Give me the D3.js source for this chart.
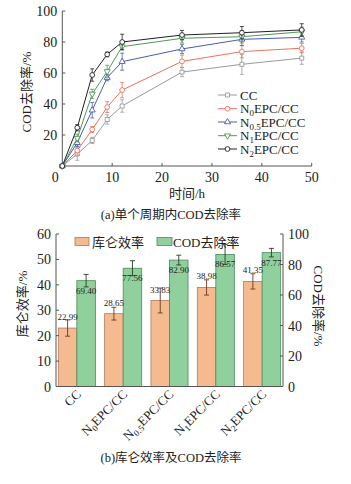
<!DOCTYPE html>
<html>
<head>
<meta charset="utf-8">
<script src="https://cdn.jsdelivr.net/npm/d3@7"></script>
<style>
  body { margin: 0; background: #fff; }
  svg text { font-family: "Liberation Serif", "Noto Sans CJK SC", serif; fill: #222; }
</style>
</head>
<body>
<div id="chart"></div>
<script>
// ---- data: (a) COD removal over time
const hours = [0, 3, 6, 9, 12, 24, 36, 48];
const seriesNames = ["CC", "N0EPC/CC", "N0.5EPC/CC", "N1EPC/CC", "N2EPC/CC"];
const codCC   = [0, 7.7, 16.5, 30, 38.7, 60.6, 65.6, 69.6];
const codN0   = [0, 10, 23.5, 38, 49, 67.5, 73.8, 76];
const codN05  = [0, 15, 36, 57, 67.3, 75.5, 81.7, 83];
const codN1   = [0, 18, 46.5, 61, 77, 82.4, 83.4, 86.6];
const codN2   = [0, 24.7, 58.7, 72, 80, 84.5, 86, 87.8];
const errCC   = [0, 4, 2, 3, 4, 3, 6.5, 4];
const errN0   = [0, 3, 2, 3.5, 5, 4, 4, 3];
const errN05  = [0, 2.5, 5, 2, 5.5, 3, 4, 3];
const errN1   = [0, 2.5, 3, 4, 2, 3, 4, 3];
const errN2   = [0, 2, 4, 1.5, 5, 3, 4, 4];
const xTicks = [0, 10, 20, 30, 40, 50];
const yTicksA = [20, 40, 60, 80, 100];

// ---- data: (b) coulombic efficiency and COD removal
const groups = ["CC", "N0EPC/CC", "N0.5EPC/CC", "N1EPC/CC", "N2EPC/CC"];
const coulomb = [22.99, 28.65, 33.83, 38.98, 41.35];
const coulombErr = [3.2, 2.5, 4.9, 3, 3];
const codRemoval = [69.40, 77.56, 82.90, 86.57, 87.77];
const codRemovalErr = [4.1, 4.9, 3.2, 6.5, 2.8];
const leftTicks = [0, 10, 20, 30, 40, 50, 60];
const rightTicks = [0, 20, 40, 60, 80, 100];

const colors = ["#9a9a9a", "#e8735a", "#4a5db0", "#4f9a52", "#222222"];
const markers = ["square", "circle", "triangle", "triangleDown", "circle"];

const width = 351, height = 484;
const svg = d3.select("#chart").append("svg")
  .attr("width", width).attr("height", height);

const axisColor = "#555";

// label with subscript, e.g. N0EPC/CC -> N<sub>0</sub>EPC/CC
function subLabel(sel, name, subSize) {
  const m = name.match(/^N([0-9.]+)(EPC\/CC)$/);
  if (!m) { sel.text(name); return; }
  sel.append("tspan").text("N");
  sel.append("tspan").attr("font-size", subSize).attr("dy", 3).text(m[1]);
  sel.append("tspan").attr("dy", -3).text(m[2]);
}

// ================= (a) line chart =================
const xA = d3.scaleLinear().domain([0, 50]).range([62.3, 311.7]);
const yA = d3.scaleLinear().domain([0, 100]).range([166, 11]);

const gA = svg.append("g");

gA.append("line").attr("x1", xA(0)).attr("x2", xA(50))
  .attr("y1", yA(0)).attr("y2", yA(0)).attr("stroke", axisColor);
gA.append("line").attr("x1", xA(0)).attr("x2", xA(0))
  .attr("y1", yA(0)).attr("y2", yA(100)).attr("stroke", axisColor);

gA.selectAll(".xt").data(xTicks).enter().append("line")
  .attr("x1", d => xA(d)).attr("x2", d => xA(d))
  .attr("y1", yA(0)).attr("y2", yA(0) - 3).attr("stroke", axisColor);
gA.selectAll(".xl").data(xTicks).enter().append("text")
  .attr("x", d => d === 0 ? xA(d) - 7 : xA(d))
  .attr("y", 182).attr("text-anchor", "middle").attr("font-size", 14)
  .text(d => d);

gA.selectAll(".yt").data(yTicksA).enter().append("line")
  .attr("x1", xA(0)).attr("x2", xA(0) + 3)
  .attr("y1", d => yA(d)).attr("y2", d => yA(d)).attr("stroke", axisColor);
gA.selectAll(".yl").data(yTicksA).enter().append("text")
  .attr("x", xA(0) - 5).attr("y", d => yA(d) + 5)
  .attr("text-anchor", "end").attr("font-size", 14)
  .text(d => d);

gA.append("text").attr("transform", "translate(31,92) rotate(-90)")
  .attr("text-anchor", "middle").attr("font-size", 13).attr("fill", "#444")
  .text("COD去除率/%");
gA.append("text").attr("x", 187).attr("y", 198)
  .attr("text-anchor", "middle").attr("font-size", 13).attr("fill", "#444")
  .text("时间/h");
gA.append("text").attr("x", 171).attr("y", 219)
  .attr("text-anchor", "middle").attr("font-size", 12.5)
  .text("(a)单个周期内COD去除率");

const allSeries = [codCC, codN0, codN05, codN1, codN2];
const allErr = [errCC, errN0, errN05, errN1, errN2];

function drawMarker(g, type, x, y, color) {
  const sym = {
    square: d3.symbolSquare, circle: d3.symbolCircle,
    triangle: d3.symbolTriangle, triangleDown: d3.symbolTriangle
  }[type];
  g.append("path")
    .attr("d", d3.symbol().type(sym).size(type === "circle" ? 18 : 16)())
    .attr("transform", `translate(${x},${y})` + (type === "triangleDown" ? " rotate(180)" : ""))
    .attr("fill", "#fff").attr("stroke", color).attr("stroke-width", 0.9);
}

const line = d3.line().x((d, i) => xA(hours[i])).y(d => yA(d));

allSeries.forEach((vals, s) => {
  const g = gA.append("g");
  // error bars
  vals.forEach((v, i) => {
    const e = allErr[s][i];
    if (!e) return;
    const x = xA(hours[i]);
    g.append("line").attr("x1", x).attr("x2", x)
      .attr("y1", yA(v - e)).attr("y2", yA(v + e))
      .attr("stroke", colors[s]).attr("stroke-width", 0.8);
    [v - e, v + e].forEach(t => g.append("line")
      .attr("x1", x - 2).attr("x2", x + 2).attr("y1", yA(t)).attr("y2", yA(t))
      .attr("stroke", colors[s]).attr("stroke-width", 0.8));
  });
  g.append("path").datum(vals).attr("d", line)
    .attr("fill", "none").attr("stroke", colors[s]).attr("stroke-width", 1);
  vals.forEach((v, i) => drawMarker(g, markers[s], xA(hours[i]), yA(v), colors[s]));
});

// legend (a)
const legRows = [95, 108.7, 122, 135.7, 149];
seriesNames.forEach((name, s) => {
  const y = legRows[s];
  gA.append("line").attr("x1", 218).attr("x2", 237).attr("y1", y).attr("y2", y)
    .attr("stroke", colors[s]).attr("stroke-width", 1);
  drawMarker(gA, markers[s], 227.5, y, colors[s]);
  const t = gA.append("text").attr("x", 240).attr("y", y + 4.5).attr("font-size", 13);
  subLabel(t, name, 9);
});

// ================= (b) bar chart =================
const xB = d3.scaleBand().domain(groups).range([56, 283]).paddingInner(0.2).paddingOuter(0.05);
const xSub = d3.scaleBand().domain(["ce", "cod"]).range([0, xB.bandwidth()]);
const yL = d3.scaleLinear().domain([0, 60]).range([386.5, 234]);
const yR = d3.scaleLinear().domain([0, 100]).range([386.5, 234]);

const gB = svg.append("g");
const orange = "#f6ba90", orangeStroke = "#b07b5a";
const green = "#8fd09c", greenStroke = "#4f8a5c";

// bars
groups.forEach((grp, i) => {
  const x0 = xB(grp);
  gB.append("rect").attr("x", x0 + xSub("ce")).attr("y", yL(coulomb[i]))
    .attr("width", xSub.bandwidth()).attr("height", yL(0) - yL(coulomb[i]))
    .attr("fill", orange).attr("stroke", orangeStroke).attr("stroke-width", 0.8);
  gB.append("rect").attr("x", x0 + xSub("cod")).attr("y", yR(codRemoval[i]))
    .attr("width", xSub.bandwidth()).attr("height", yR(0) - yR(codRemoval[i]))
    .attr("fill", green).attr("stroke", greenStroke).attr("stroke-width", 0.8);

  const errs = [
    [x0 + xSub("ce") + xSub.bandwidth() / 2, yL, coulomb[i], coulombErr[i], "#6a3a22"],
    [x0 + xSub("cod") + xSub.bandwidth() / 2, yR, codRemoval[i], codRemovalErr[i], "#2b3a2b"]
  ];
  errs.forEach(([cx, sc, v, e, c]) => {
    gB.append("line").attr("x1", cx).attr("x2", cx)
      .attr("y1", sc(v - e)).attr("y2", sc(v + e)).attr("stroke", c).attr("stroke-width", 0.9);
    [v - e, v + e].forEach(t => gB.append("line")
      .attr("x1", cx - 2.5).attr("x2", cx + 2.5).attr("y1", sc(t)).attr("y2", sc(t))
      .attr("stroke", c).attr("stroke-width", 0.9));
  });

  gB.append("text").attr("x", x0 + xSub("ce") + xSub.bandwidth() / 2)
    .attr("y", yL(coulomb[i]) - 8).attr("text-anchor", "middle").attr("font-size", 9)
    .text(coulomb[i].toFixed(2));
  gB.append("text").attr("x", x0 + xSub("cod") + xSub.bandwidth() / 2)
    .attr("y", yR(codRemoval[i]) + 13).attr("text-anchor", "middle").attr("font-size", 9)
    .text(codRemoval[i].toFixed(2));

  const t = gB.append("text")
    .attr("transform", `translate(${x0 + xB.bandwidth() / 2 + 5},395) rotate(-45)`)
    .attr("text-anchor", "end").attr("font-size", 13);
  subLabel(t, grp, 9);
});

// axes (b)
gB.append("line").attr("x1", 56).attr("x2", 283).attr("y1", yL(0)).attr("y2", yL(0)).attr("stroke", axisColor);
gB.append("line").attr("x1", 56).attr("x2", 56).attr("y1", yL(0)).attr("y2", yL(60)).attr("stroke", axisColor);
gB.append("line").attr("x1", 283).attr("x2", 283).attr("y1", yR(0)).attr("y2", yR(100)).attr("stroke", axisColor);

gB.selectAll(".lt").data(leftTicks).enter().append("line")
  .attr("x1", 56).attr("x2", 59).attr("y1", d => yL(d)).attr("y2", d => yL(d)).attr("stroke", axisColor);
gB.selectAll(".ll").data(leftTicks).enter().append("text")
  .attr("x", 51).attr("y", d => yL(d) + 5).attr("text-anchor", "end").attr("font-size", 14)
  .text(d => d);
gB.selectAll(".rt").data(rightTicks).enter().append("line")
  .attr("x1", 283).attr("x2", 280).attr("y1", d => yR(d)).attr("y2", d => yR(d)).attr("stroke", axisColor);
gB.selectAll(".rl").data(rightTicks).enter().append("text")
  .attr("x", 288).attr("y", d => yR(d) + 5).attr("text-anchor", "start").attr("font-size", 14)
  .text(d => d);

gB.append("text").attr("transform", "translate(27,304) rotate(-90)")
  .attr("text-anchor", "middle").attr("font-size", 13).attr("fill", "#444")
  .text("库仑效率/%");
gB.append("text").attr("transform", "translate(314,306) rotate(90)")
  .attr("text-anchor", "middle").attr("font-size", 13).attr("fill", "#444")
  .text("COD去除率/%");

// legend (b)
gB.append("rect").attr("x", 75).attr("y", 237.5).attr("width", 14).attr("height", 8)
  .attr("fill", orange).attr("stroke", orangeStroke).attr("stroke-width", 0.8);
gB.append("text").attr("x", 92).attr("y", 246.5).attr("font-size", 13).attr("fill", "#444").text("库仑效率");
gB.append("rect").attr("x", 157).attr("y", 237.5).attr("width", 15).attr("height", 8)
  .attr("fill", green).attr("stroke", greenStroke).attr("stroke-width", 0.8);
gB.append("text").attr("x", 173).attr("y", 246.5).attr("font-size", 13).attr("fill", "#444").text("COD去除率");

gB.append("text").attr("x", 171).attr("y", 462)
  .attr("text-anchor", "middle").attr("font-size", 12.5)
  .text("(b)库仑效率及COD去除率");
</script>
</body>
</html>
